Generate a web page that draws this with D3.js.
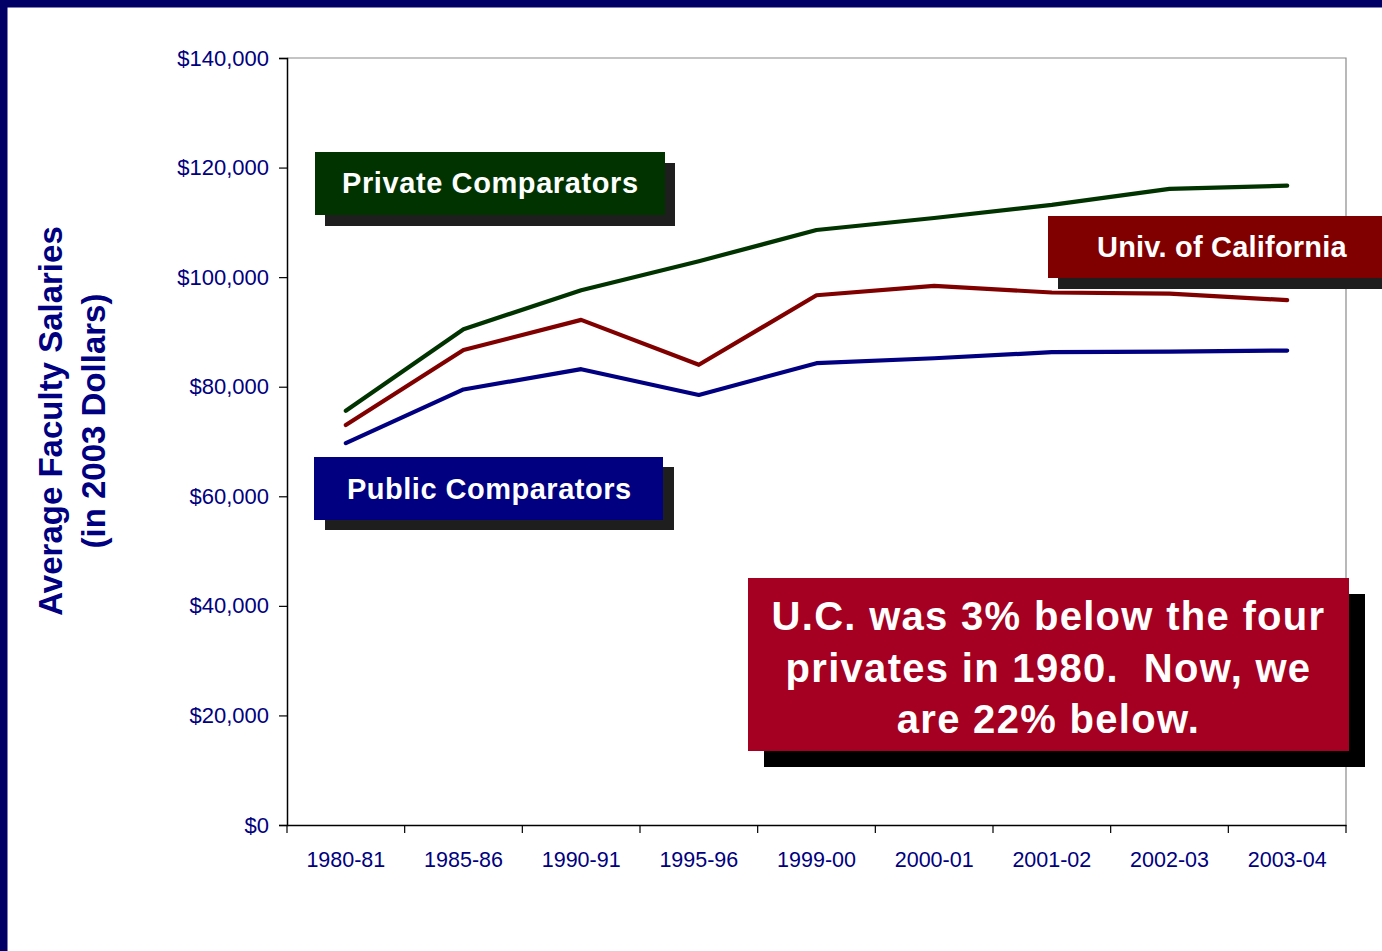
<!DOCTYPE html>
<html><head><meta charset="utf-8">
<script src="https://cdn.jsdelivr.net/npm/d3@7"></script>
<style>
html,body{margin:0;padding:0;background:#fff;}
svg{display:block;font-family:Arial,"Liberation Sans",sans-serif;}
</style></head>
<body><svg id="c" width="1382" height="951"></svg>
<script>
const categories = ["1980-81","1985-86","1990-91","1995-96","1999-00","2000-01","2001-02","2002-03","2003-04"];
const privateValues = [75600, 90500, 97600, 102900, 108600, 110800, 113200, 116100, 116700];
const ucValues      = [73000, 86700, 92200, 84000, 96700, 98400, 97200, 97000, 95800];
const publicValues  = [69700, 79500, 83200, 78500, 84300, 85200, 86300, 86400, 86600];
const yTicks = [0, 20000, 40000, 60000, 80000, 100000, 120000, 140000];

const svg = d3.select("#c");
const L = 287, R = 1346, T = 58, B = 825;
const navy = "#000080";

// frame border
svg.append("rect").attr("x",0).attr("y",0).attr("width",1382).attr("height",951).attr("fill","#fff");
svg.append("rect").attr("x",0).attr("y",0).attr("width",1382).attr("height",7.5).attr("fill","#000066");
svg.append("rect").attr("x",0).attr("y",0).attr("width",7.5).attr("height",951).attr("fill","#000066");

const x = d3.scaleBand().domain(categories).range([L, R]).padding(0);
const y = d3.scaleLinear().domain([0, 140000]).range([B, T]);
const cx = c => x(c) + x.bandwidth()/2;

// plot border (top & right gray)
svg.append("path").attr("d", `M${L},${T}H${R}V${B}`).attr("fill","none").attr("stroke","#8a8a8a").attr("stroke-width",1.2);

// y axis
const yAxis = svg.append("g").attr("transform",`translate(${L},0)`)
  .call(d3.axisLeft(y).tickValues(yTicks).tickSize(8).tickPadding(10).tickFormat(d3.format("$,")));
yAxis.select(".domain").attr("stroke","#000").attr("stroke-width",1.5);
yAxis.selectAll(".tick line").attr("stroke","#000").attr("stroke-width",1.2);
yAxis.selectAll("text").attr("fill",navy).attr("font-size",22).attr("font-family","Arial, 'Liberation Sans', sans-serif");

// x axis
const xAxis = svg.append("g").attr("transform",`translate(0,${B})`)
  .call(d3.axisBottom(x).tickSize(0).tickPadding(0));
xAxis.select(".domain").attr("stroke","#000").attr("stroke-width",1.5);
xAxis.selectAll(".tick text").attr("fill",navy).attr("font-size",21.5)
  .attr("font-family","Arial, 'Liberation Sans', sans-serif").attr("y",42).attr("dy",0);
const bounds = categories.map(c => x(c)).concat([x(categories[categories.length-1]) + x.bandwidth()]);
svg.append("g").selectAll("line").data(bounds).join("line")
  .attr("x1",d=>d).attr("x2",d=>d).attr("y1",B).attr("y2",B+8)
  .attr("stroke","#000").attr("stroke-width",1.2);

// y title
const yt = svg.append("g").attr("transform","translate(0,421) rotate(-90)")
  .attr("fill",navy).attr("font-weight","bold").attr("font-size",33).attr("text-anchor","middle");
yt.append("text").attr("x",0).attr("y",62).text("Average Faculty Salaries");
yt.append("text").attr("x",0).attr("y",105).text("(in 2003 Dollars)");

// lines
const line = d3.line().x((d,i)=>cx(categories[i])).y(d=>y(d));
const series = [
  {vals: privateValues, color:"#003300"},
  {vals: ucValues, color:"#800000"},
  {vals: publicValues, color:"#000080"}
];
svg.append("g").selectAll("path").data(series).join("path")
  .attr("d", d=>line(d.vals)).attr("fill","none").attr("stroke",d=>d.color)
  .attr("stroke-width",4.2).attr("stroke-linejoin","round").attr("stroke-linecap","round");

// label boxes
function labelBox(x0,y0,w,h,fill,shadow,dx,dy,text,tx,ty,fs,ls){
  svg.append("rect").attr("x",x0+dx).attr("y",y0+dy).attr("width",w).attr("height",h).attr("fill",shadow);
  svg.append("rect").attr("x",x0).attr("y",y0).attr("width",w).attr("height",h).attr("fill",fill);
  svg.append("text").attr("x",tx).attr("y",ty).attr("fill","#fff").attr("font-weight","bold")
    .attr("font-size",fs).attr("letter-spacing",ls).text(text);
}
labelBox(315,152,350,63,"#003300","#1e1e1e",10,11,"Private Comparators",342,193,29,0.6);
labelBox(1048,216,340,62,"#800000","#1e1e1e",10,11,"Univ. of California",1097,257,29,0.2);
labelBox(314,457,349,63,"#000080","#1e1e1e",11,10,"Public Comparators",347,499,29,0.5);

// callout
svg.append("rect").attr("x",764).attr("y",594).attr("width",601).attr("height",173).attr("fill","#000");
svg.append("rect").attr("x",748).attr("y",578).attr("width",601).attr("height",173).attr("fill","#a50021");
const callout = ["U.C. was 3% below the four","privates in 1980.  Now, we","are 22% below."];
svg.append("g").selectAll("text").data(callout).join("text")
  .attr("x",1048.5).attr("y",(d,i)=>630+i*51.5).attr("text-anchor","middle")
  .attr("fill","#fff").attr("font-weight","bold").attr("font-size",40).attr("letter-spacing",1.3)
  .style("white-space","pre").text(d=>d);
</script></body></html>
